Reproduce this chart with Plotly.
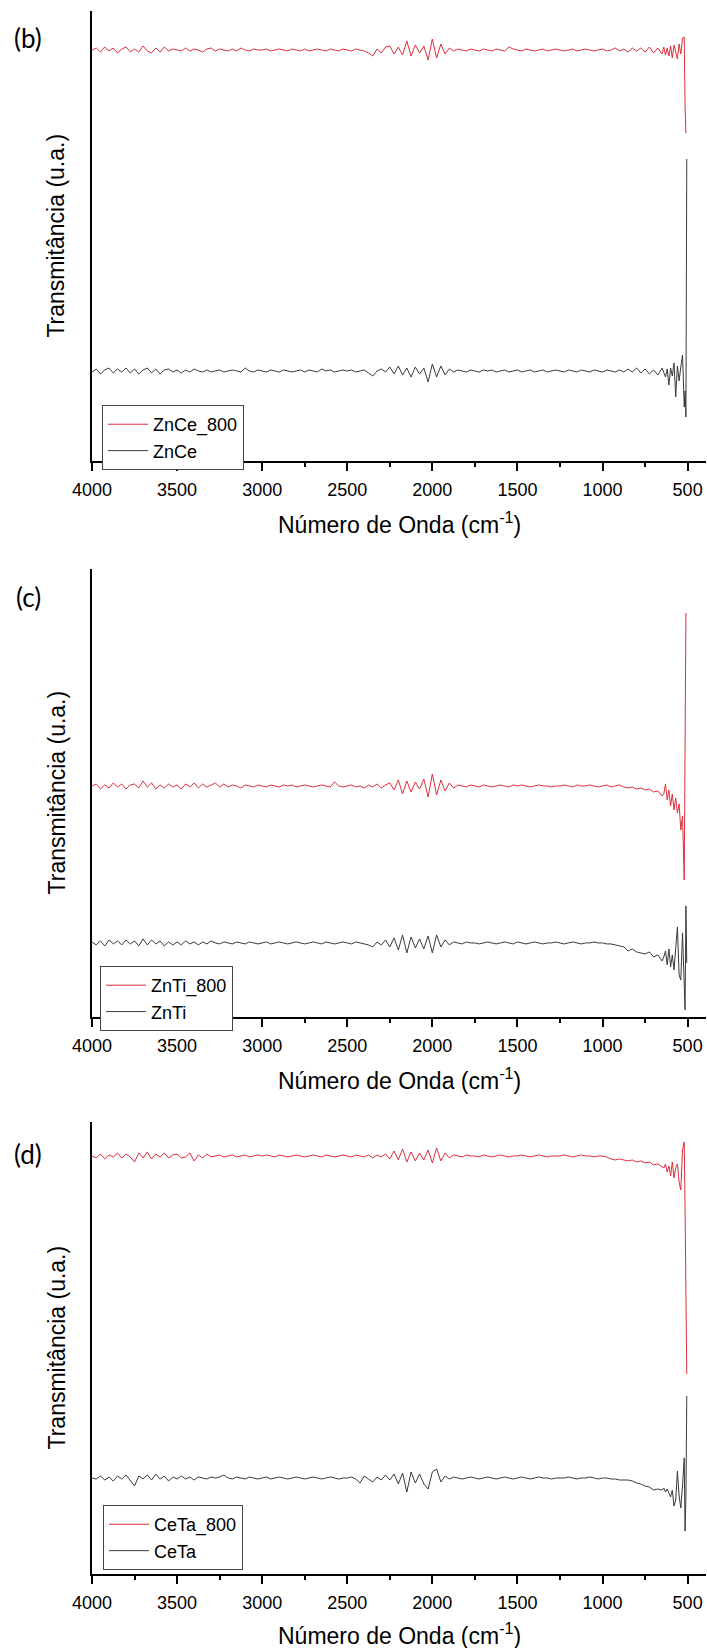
import plotly.graph_objects as go

# ---------------- data ----------------
# wavenumber grid (cm-1): coarse part 4000 -> 650 every 25, fine part near the lattice bands
WAVENUMBER_COARSE = list(range(4000, 649, -25))
WAVENUMBER_FINE = [640, 630, 620, 610, 600, 590, 580, 570, 560, 550, 540, 530, 520, 515, 510, 505, 500]

# vertical offsets of the stacked spectra (arbitrary units)
OFFSETS = {"ZnCe_800": 411, "ZnCe": 90, "ZnTi_800": 231, "ZnTi": 74, "CeTa_800": 418, "CeTa": 96}

ZNCE800_COARSE = [
    0, 2, -2, 3, -1, 2, -3, 1, 3, -2,
    1, -2, 4, -1, -3, 2, -2, 3, -1, 1,
    0, -1, 2, -1, 1, 0, -2, 1, 2, -1,
    1, 0, -1, 1, -1, 2, 0, -1, 1, 0,
    0, 1, -1, 0, 1, 0, -1, 1, 0, -1,
    1, -1, 0, 1, 0, -1, 1, 0, -1, 1,
    0, -1, 1, 0, -1, -3, -6, 1, -3, 3,
    4, -4, 3, -5, 9, -6, 5, -3, 4, -10,
    11, -8, 6, -4, 2, -1, 1, 0, -1, 1,
    0, -1, 1, 0, -1, 1, 0, -1, 3, 1,
    0, -1, 1, 0, -1, 0, 1, -1, 0, 1,
    0, -1, 0, 1, -1, 0, 1, 0, -1, 0,
    1, -1, 0, 2, -1, 1, -2, 2, -1, 2,
    -2, 3, -3, 2, -4,
]
ZNCE800_FINE = [3, -5, 2, -6, 4, -8, 5, -3, -9, 6, -4, 12, 13, -57, -83, None, None]

ZNCE_COARSE = [
    -1, 2, -3, 1, 3, -2, 2, -1, 3, -2,
    2, -3, 1, 3, -2, 2, -3, 1, 2, -1,
    1, -2, 1, -1, 2, 0, -1, 1, -1, 0,
    1, -1, 0, 1, 0, -1, 3, 0, -1, 1,
    0, -1, 1, 0, -1, 1, 0, -1, 0, 1,
    -1, 1, 0, -1, 2, 0, 1, -1, 0, 1,
    0, 1, -1, 0, 1, -2, -5, 0, 2, -1,
    4, -3, 5, -4, 3, -6, 4, -3, 3, -11,
    7, -6, 5, -4, 2, -1, 1, 0, -1, 1,
    0, -1, 1, 0, 1, -1, 0, 1, -1, 0,
    1, -1, 0, 1, -1, 0, 1, -1, 0, 1,
    0, -1, 1, 0, -1, 1, 0, -1, 1, 0,
    -1, 1, 0, -1, 1, -1, 2, -1, 3, -2,
    2, -3, 1, -4, 3,
]
ZNCE_FINE = [-2, -6, 2, -14, 3, -5, 8, -26, 5, -10, 4, 16, -36, -20, -46, 212, None]

ZNTI800_COARSE = [
    0, 2, -3, 1, -2, 3, -1, 2, -3, 1,
    2, -2, 5, -1, 3, -3, 1, -2, 2, -1,
    1, -3, 2, -1, 3, -2, 2, -1, 1, 3,
    -1, 2, -1, 1, 0, -2, 1, 0, -1, 1,
    0, -1, 1, 0, -1, 1, 0, 1, -1, 0,
    1, 0, -1, 0, 1, 0, -1, 4, 0, -1,
    0, 1, -1, 0, -2, 1, -1, 2, -2, 1,
    3, -4, 6, -8, 5, -6, 4, -3, 7, -11,
    12, -9, 6, -5, 3, -2, 1, 0, -1, 1,
    0, -1, 1, 0, -1, 0, 1, 0, -1, 1,
    0, 1, 0, -1, 0, 1, 0, 0, -1, 0,
    0, 1, 0, -1, 1, 0, 0, 1, 0, -1,
    0, 1, -1, 0, 1, -1, -2, -1, -3, -2,
    -4, -3, -6, -5, -10,
]
ZNTI800_FINE = [-8, 2, -14, -4, -20, -8, -24, -12, -27, -18, -44, -30, -94, 60, 173, None, None]

ZNTI_COARSE = [
    1, -2, 2, -3, 3, -1, 2, -2, 3, -1,
    2, -3, 4, -2, 3, -1, 2, -3, 1, -2,
    1, -2, 2, -1, 1, -2, 1, -1, 2, 0,
    -1, 1, 0, -1, 1, 0, -1, 1, 0, -1,
    0, 1, -1, 0, 1, 0, -1, 0, 1, 0,
    -1, 0, 1, 0, -1, 1, 0, -1, 0, 1,
    0, -1, 1, 0, -1, -2, -4, 1, -2, 3,
    -4, 5, -7, 8, -10, 6, -5, 4, -6, 7,
    -10, 8, -4, 3, -2, 1, 0, -1, 1, 0,
    0, -1, 0, 1, 0, -1, 0, 1, 0, -1,
    1, 0, -1, 0, 1, 0, -1, 0, 0, 1,
    0, -1, 0, 1, 0, -1, 0, 0, 1, 0,
    0, -1, -1, -2, -3, -4, -8, -6, -9, -10,
    -11, -9, -14, -12, -18,
]
ZNTI_FINE = [-14, -8, -22, -6, -24, -12, -27, -4, 16, -32, -37, 10, -50, -67, 37, -20, None]

CETA800_COARSE = [
    0, -2, 2, -3, 1, -1, 3, -2, 2, -1,
    -6, 3, -2, 4, -3, 2, -1, 3, -2, 1,
    2, -2, -1, 3, -5, 1, -2, 2, -1, 0,
    1, -1, 0, 1, -1, 0, 1, -1, 0, 1,
    0, 1, 0, -1, 1, 0, -1, 0, 1, 0,
    -1, 0, 1, 0, -1, 1, 0, -1, 0, 1,
    0, -1, 1, 0, -1, 1, -2, 1, -1, 2,
    -3, 5, -4, 7, -6, 4, -5, 3, -4, 6,
    -7, 8, -5, 3, -2, 1, 0, -1, 1, 0,
    0, -1, 1, 0, -1, 0, 1, 0, -1, 0,
    0, 1, 0, -1, 0, 1, 0, -1, 0, 0,
    0, 1, 0, -1, 0, 1, 0, 0, -1, 0,
    0, -1, -3, -4, -3, -4, -5, -4, -6, -5,
    -7, -6, -9, -8, -11,
]
CETA800_FINE = [-12, -8, -16, -10, -20, -6, -22, -12, -8, -26, -34, 6, 14, -54, -120, -218, None]

CETA_COARSE = [
    0, -1, 2, -2, 1, -3, 2, -1, 3, -2,
    -8, 2, -1, 3, -2, 4, -1, 2, -3, 1,
    -1, 2, -1, 1, -2, 1, 0, -1, 1, 0,
    1, 3, 0, -1, 1, 0, -1, 1, 0, -1,
    0, 1, -1, 0, 1, 0, -1, 0, 1, 0,
    -1, 0, 1, 0, -1, 0, 1, 0, -1, 0,
    0, 1, -1, -5, 2, -1, -4, 1, -2, 3,
    -2, 4, -6, 5, -14, 6, -5, 4, -6, -11,
    6, 9, -4, 2, -1, 1, 0, -1, 0, 1,
    0, -1, 0, 1, 0, -1, 0, 1, 0, -1,
    0, 1, 0, -1, 0, 1, 0, 0, -1, 0,
    0, 0, 1, 0, -1, 0, 0, 1, 0, -1,
    0, 0, -1, -1, -2, -2, -2, -3, -5, -6,
    -8, -9, -12, -11, -12,
]
CETA_FINE = [-10, -14, -11, -16, -19, -12, -28, -22, 7, -18, -30, -8, 20, -53, -20, 82, None]

PANEL_LABELS = ["(b)", "(c)", "(d)"]
PANEL_SERIES = [
    [("ZnCe_800", ZNCE800_COARSE, ZNCE800_FINE), ("ZnCe", ZNCE_COARSE, ZNCE_FINE)],
    [("ZnTi_800", ZNTI800_COARSE, ZNTI800_FINE), ("ZnTi", ZNTI_COARSE, ZNTI_FINE)],
    [("CeTa_800", CETA800_COARSE, CETA800_FINE), ("CeTa", CETA_COARSE, CETA_FINE)],
]
Y_RANGES = [[0, 450], [0, 448], [0, 452]]
X_TICKS = [4000, 3500, 3000, 2500, 2000, 1500, 1000, 500]

# ---------------- style ----------------
RED = "#dc2f3c"
BLACK = "#3a3a3a"
FONT = "Liberation Sans, Arial, sans-serif"
Y_DOMAINS = [[0.7121, 1.0], [0.3564, 0.6430], [0.0, 0.2892]]
LEGEND_POS = [(0.0163, 0.7479), (0.013, 0.389), (0.018, 0.0441)]
LABEL_Y = [0.9830, 0.6251, 0.2687]
YTITLE_Y = [0.856, 0.4997, 0.1446]
XTITLE_Y = [0.6724, 0.3167, -0.0384]

x_all = WAVENUMBER_COARSE + WAVENUMBER_FINE

fig = go.Figure()
layout = dict(
    width=707, height=1648,
    margin=dict(l=92, r=1, t=11, b=74, pad=0),
    paper_bgcolor="white", plot_bgcolor="white",
    showlegend=True,
    annotations=[],
)

for p in range(3):
    sfx = "" if p == 0 else str(p + 1)
    legend_name = "legend" if p == 0 else f"legend{p + 1}"
    for k, (name, coarse, fine) in enumerate(PANEL_SERIES[p]):
        vals = coarse + fine
        n = min(len(vals), len(x_all))
        off = OFFSETS[name]
        y = [None if v is None else v + off for v in vals[:n]]
        fig.add_trace(go.Scatter(
            x=x_all[:n], y=y, mode="lines", name=name,
            line=dict(color=RED if k == 0 else BLACK, width=1),
            xaxis="x" + sfx, yaxis="y" + sfx, legend=legend_name,
            connectgaps=False, hoverinfo="skip",
        ))

    layout["xaxis" + sfx] = dict(
        domain=[0, 1], anchor="y" + sfx, range=[4000, 392],
        showline=True, linewidth=2, linecolor="black",
        ticks="outside", ticklen=8, tickwidth=2, tickcolor="black",
        tickmode="array", tickvals=X_TICKS, ticktext=[str(t) for t in X_TICKS],
        minor=dict(tickmode="linear", tick0=250, dtick=500, ticks="outside",
                   ticklen=4, tickwidth=2, tickcolor="black"),
        showgrid=False, zeroline=False,
        tickfont=dict(family=FONT, size=18, color="black"),
        ticklabelstandoff=3,
    )
    layout["yaxis" + sfx] = dict(
        domain=Y_DOMAINS[p], anchor="x" + sfx, range=Y_RANGES[p],
        showline=True, linewidth=2, linecolor="black",
        showticklabels=False, ticks="", showgrid=False, zeroline=False,
    )
    layout[legend_name] = dict(
        x=LEGEND_POS[p][0], y=LEGEND_POS[p][1], xanchor="left", yanchor="top",
        xref="paper", yref="paper",
        bgcolor="white", bordercolor="#444", borderwidth=1,
        font=dict(family=FONT, size=18, color="black"),
        tracegroupgap=0, itemwidth=40,
    )
    layout["annotations"] += [
        dict(text=PANEL_LABELS[p], xref="paper", yref="paper", x=-0.104, y=LABEL_Y[p],
             xanchor="center", yanchor="middle", showarrow=False,
             font=dict(family="Lato, Open Sans, sans-serif", size=26, color="black")),
        dict(text="Transmitância (u.a.)", xref="paper", yref="paper", x=-0.0578, y=YTITLE_Y[p],
             xanchor="center", yanchor="middle", showarrow=False, textangle=-90,
             font=dict(family=FONT, size=23, color="black")),
        dict(text="Número de Onda (cm<sup>-1</sup>)", xref="paper", yref="paper", x=0.5, y=XTITLE_Y[p],
             xanchor="center", yanchor="middle", showarrow=False,
             font=dict(family=FONT, size=23, color="black")),
    ]

fig.update_layout(**layout)
fig.write_html(
    "out.html",
    config={"displayModeBar": False},
    post_script="document.body.style.margin='0';document.body.style.padding='0';"
                "document.body.style.overflow='hidden';"
                "document.documentElement.style.overflow='hidden';",
)
